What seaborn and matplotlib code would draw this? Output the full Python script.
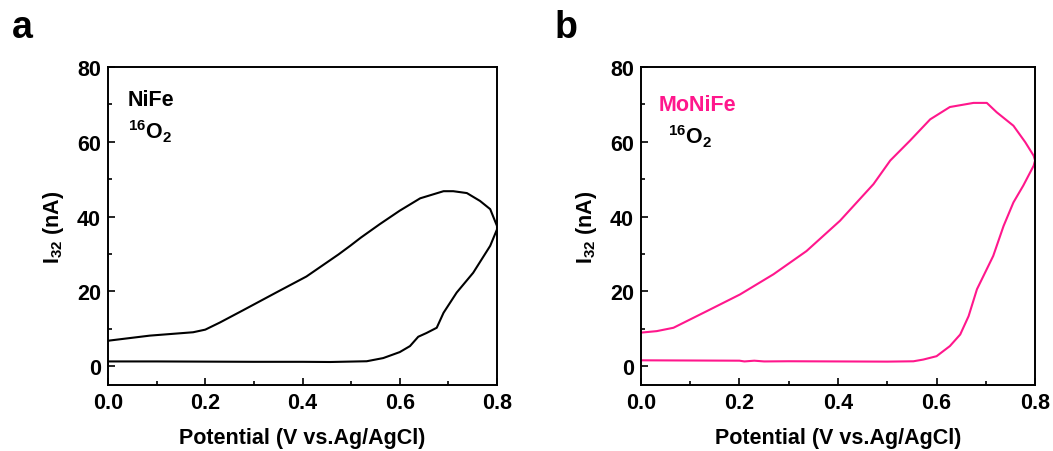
import matplotlib
matplotlib.use("Agg")
import matplotlib.pyplot as plt
from matplotlib.ticker import MultipleLocator
import seaborn as sns
import pandas as pd

# NiFe: forward (anodic) sweep then reverse sweep; potential in V, current in nA
nife_fwd_v = [0.00, 0.10, 0.20, 0.30, 0.40, 0.457, 0.532, 0.566, 0.600, 0.621, 0.638,
              0.655, 0.676, 0.690, 0.717, 0.751, 0.786, 0.800]
nife_fwd_i = [1.3, 1.3, 1.25, 1.2, 1.2, 1.15, 1.35, 2.2, 3.8, 5.4, 7.9,
              8.9, 10.3, 14.3, 19.7, 25.0, 32.2, 36.6]
nife_rev_v = [0.800, 0.786, 0.765, 0.738, 0.710, 0.690, 0.642, 0.600, 0.559, 0.520,
              0.498, 0.474, 0.408, 0.347, 0.278, 0.230, 0.200, 0.175, 0.086, 0.004,
              0.000]
nife_rev_i = [37.5, 42.0, 44.2, 46.3, 46.8, 46.8, 44.9, 41.6, 38.0, 34.4,
              32.2, 29.9, 24.0, 19.8, 15.0, 11.7, 9.8, 9.1, 8.2, 6.9,
              6.8]

# MoNiFe
monife_fwd_v = [0.00, 0.10, 0.20, 0.21, 0.23, 0.25, 0.30, 0.40, 0.50, 0.553, 0.573,
                0.600, 0.627, 0.648, 0.665, 0.682, 0.695, 0.715, 0.736, 0.756, 0.776,
                0.797, 0.800]
monife_fwd_i = [1.6, 1.55, 1.5, 1.3, 1.5, 1.3, 1.35, 1.3, 1.25, 1.34, 1.8,
                2.7, 5.4, 8.5, 13.4, 20.6, 24.1, 29.5, 37.5, 43.8, 48.3,
                53.6, 55.0]
monife_rev_v = [0.800, 0.797, 0.780, 0.756, 0.722, 0.702, 0.675, 0.627, 0.587, 0.546,
                0.506, 0.472, 0.404, 0.336, 0.269, 0.201, 0.133, 0.066, 0.032, 0.000]
monife_rev_i = [55.0, 56.3, 59.9, 64.3, 67.9, 70.4, 70.4, 69.3, 66.0, 60.3,
                55.0, 48.7, 38.9, 30.8, 24.6, 19.2, 14.7, 10.3, 9.4, 9.0]

x_ticks = [0.0, 0.2, 0.4, 0.6, 0.8]
y_ticks = [0, 20, 40, 60, 80]

PINK = "#FF178C"
FS = 15.5

sns.set_style("ticks")
plt.rcParams["font.family"] = ["Liberation Sans", "DejaVu Sans"]
plt.rcParams["font.weight"] = "bold"
plt.rcParams["text.color"] = "black"
plt.rcParams["axes.labelcolor"] = "black"
plt.rcParams["mathtext.fontset"] = "custom"
plt.rcParams["mathtext.rm"] = "Liberation Sans"
plt.rcParams["mathtext.bf"] = "Liberation Sans:bold"
plt.rcParams["mathtext.default"] = "regular"


def sweep_frame(fv, fi, rv, ri):
    v = list(fv) + list(rv)
    i = list(fi) + list(ri)
    return pd.DataFrame({"v": v, "i": i, "order": range(len(v))})


fig = plt.figure(figsize=(10.53, 4.52), dpi=100)
ax_a = fig.add_axes([0.1026, 0.146, 0.3694, 0.7036])
ax_b = fig.add_axes([0.6087, 0.146, 0.3743, 0.7036])

panels = [
    (ax_a, sweep_frame(nife_fwd_v, nife_fwd_i, nife_rev_v, nife_rev_i), "black",
     "NiFe", "a", (0.051, 0.93), (0.051, 0.84), 12),
    (ax_b, sweep_frame(monife_fwd_v, monife_fwd_i, monife_rev_v, monife_rev_i), PINK,
     "MoNiFe", "b", (0.046, 0.915), (0.069, 0.825), 555),
]

for ax, df, color, name, letter, name_xy, gas_xy, letter_x in panels:
    sns.lineplot(data=df, x="v", y="i", sort=False, estimator=None, ax=ax,
                 color=color, linewidth=1.5)
    ax.set_xlim(0.0, 0.8)
    ax.set_ylim(-5, 80)
    ax.set_xticks(x_ticks)
    ax.set_yticks(y_ticks)
    ax.xaxis.set_minor_locator(MultipleLocator(0.1))
    ax.yaxis.set_minor_locator(MultipleLocator(10))
    ax.tick_params(which="both", direction="in", width=1.2, colors="black",
                   labelsize=FS, pad=5)
    ax.tick_params(which="major", length=5)
    ax.tick_params(which="minor", length=3)
    for lab in ax.get_xticklabels() + ax.get_yticklabels():
        lab.set_fontweight("bold")
    for sp in ax.spines.values():
        sp.set_linewidth(1.4)
        sp.set_color("black")
    ax.set_xlabel("Potential (V vs.Ag/AgCl)", fontsize=FS, fontweight="bold",
                  color="black", labelpad=10)
    ax.set_ylabel(r"I$_{32}$ (nA)", fontsize=FS, fontweight="bold",
                  color="black", labelpad=8)
    ax.text(name_xy[0], name_xy[1], name, transform=ax.transAxes, fontsize=FS,
            fontweight="bold", color=color, va="top", ha="left")
    ax.text(gas_xy[0], gas_xy[1], r"$^{16}$O$_{2}$", transform=ax.transAxes,
            fontsize=FS, fontweight="bold", color="black", va="top", ha="left")
    fig.text(letter_x / 1053, 1 - 10 / 452, letter, fontsize=27, fontweight="bold",
             color="black", va="top", ha="left")

fig.savefig("out.png", dpi=100)
